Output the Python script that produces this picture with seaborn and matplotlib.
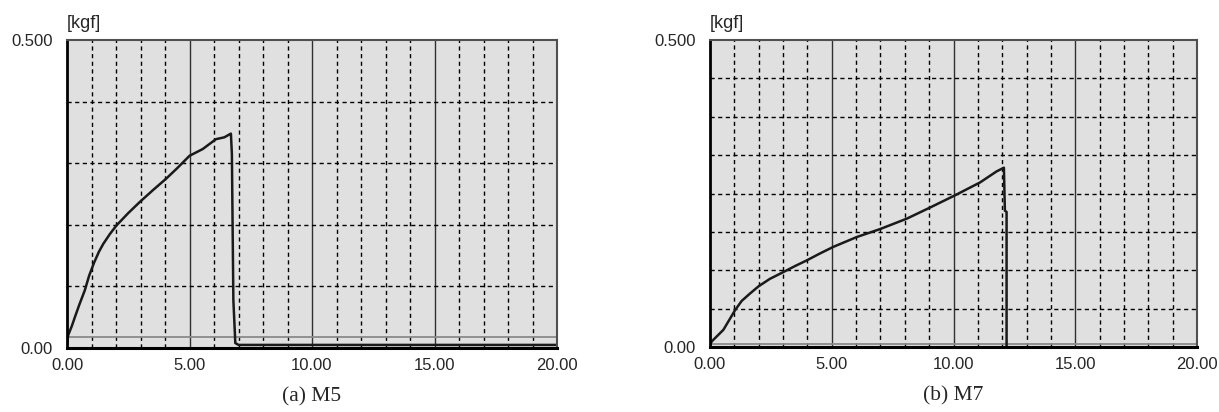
import seaborn as sns
import pandas as pd
import matplotlib.pyplot as plt

sns.set_theme(style="white")
plt.rcParams['font.family'] = ['Liberation Sans', 'DejaVu Sans']

# (a) M5 : force [kgf] vs displacement
m5_x = [0.0, 0.05, 0.2, 0.33, 0.5, 0.73, 0.9, 1.1, 1.3, 1.48, 1.75, 2.02, 2.5, 2.97, 3.5,
        4.05, 4.5, 5.0, 5.54, 6.08, 6.42, 6.69, 6.73, 6.79, 6.87, 7.0, 20.0]
m5_y = [0.005, 0.021, 0.036, 0.051, 0.07, 0.094, 0.117, 0.138, 0.156, 0.169, 0.185, 0.199,
        0.219, 0.237, 0.256, 0.275, 0.292, 0.312, 0.323, 0.339, 0.342, 0.348, 0.315, 0.078,
        0.008, 0.005, 0.005]

# (b) M7
m7_x = [0.0, 0.07, 0.55, 1.03, 1.3, 1.64, 2.0, 2.46, 3.01, 3.5, 3.97, 4.5, 5.06, 6.02, 6.98,
        8.08, 9.03, 10.06, 11.09, 11.77, 12.07, 12.11, 12.18, 12.18]
m7_y = [0.003, 0.009, 0.028, 0.060, 0.075, 0.087, 0.099, 0.111, 0.122, 0.132, 0.141, 0.152,
        0.163, 0.179, 0.192, 0.209, 0.227, 0.247, 0.268, 0.286, 0.292, 0.222, 0.220, 0.0]

# gray reference line near zero
m5_base = 0.018
m7_base = 0.005

captions = ["(a) M5", "(b) M7"]
y_steps = [0.1, 0.0625]
x_ticks = [0, 5, 10, 15, 20]

fig = plt.figure(figsize=(12.19, 4.12), dpi=100)
ax1 = fig.add_axes([67 / 1219, 64 / 412, 490 / 1219, 308 / 412])
ax2 = fig.add_axes([710 / 1219, 65 / 412, 487 / 1219, 307 / 412])

panels = [(ax1, m5_x, m5_y, m5_base), (ax2, m7_x, m7_y, m7_base)]

for i, (ax, xs, ys, base) in enumerate(panels):
    ax.set_facecolor('#e0e0e0')
    ax.set_xlim(0, 20)
    ax.set_ylim(0, 0.5)

    # grid: dashed every 1, solid every 5
    for gx in range(1, 20):
        if gx % 5 == 0:
            ax.axvline(gx, color='#303030', lw=1.0, zorder=1)
        else:
            ax.axvline(gx, color='black', lw=1.0, ls=(0, (3, 2.5)), zorder=1)
    step = y_steps[i]
    k = 1
    while k * step < 0.5 - 1e-9:
        ax.axhline(k * step, color='black', lw=1.0, ls=(0, (3, 2.5)), zorder=1)
        k += 1

    ax.axhline(base, color='#8a8a8a', lw=1.3, zorder=2)

    df = pd.DataFrame({'x': xs, 'y': ys})
    sns.lineplot(data=df, x='x', y='y', ax=ax, sort=False, estimator=None,
                 color='#1a1a1a', lw=1.8, zorder=3)

    ax.set_xticks(x_ticks)
    ax.set_xticklabels([f"{t:.2f}" for t in x_ticks], fontsize=12)
    ax.set_yticks([0, 0.5])
    ax.set_yticklabels(["0.00", "0.500"], fontsize=12)
    ax.tick_params(length=0, pad=7)
    ax.tick_params(axis='y', pad=10)
    ax.set_xlabel("")
    ax.set_ylabel("")

    ax.spines['left'].set_color('black')
    ax.spines['left'].set_linewidth(2)
    ax.spines['bottom'].set_color('black')
    ax.spines['bottom'].set_linewidth(2.2)
    ax.spines['top'].set_color('#505050')
    ax.spines['top'].set_linewidth(1.5)
    ax.spines['right'].set_color('#505050')
    ax.spines['right'].set_linewidth(1.5)
    for s in ax.spines.values():
        s.set_zorder(4)

    ax.text(0.0, 1.025, "[kgf]", transform=ax.transAxes, fontsize=13,
            ha='left', va='bottom')
    ax.text(0.5, -0.158, captions[i], transform=ax.transAxes, fontsize=15.5,
            ha='center', va='center', family='Liberation Serif')

fig.savefig("out.png", dpi=100)
